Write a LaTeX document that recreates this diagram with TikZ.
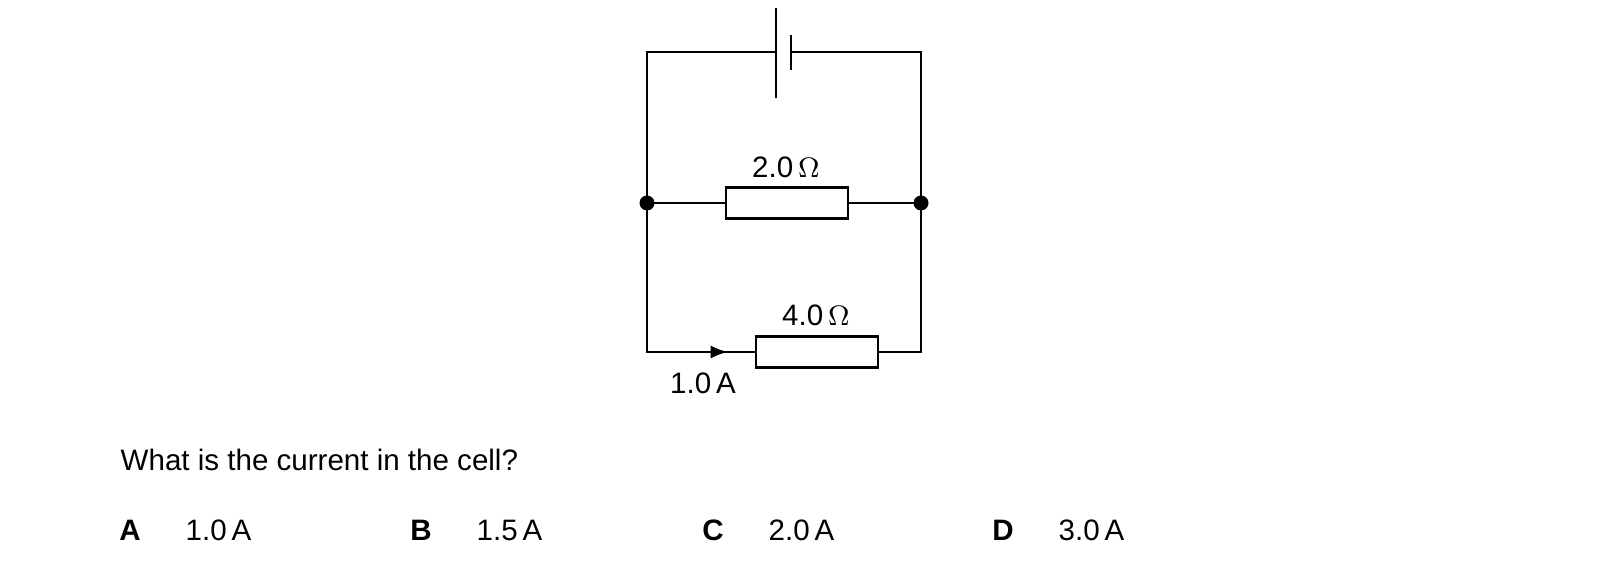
\documentclass[tikz,border=0pt]{standalone}
\usepackage{fontspec}
\setmainfont{Liberation Sans}
\usetikzlibrary{decorations.markings}
\tikzset{>=latex}
\tikzset{->-/.style={decoration={
  markings,
  mark=at position .75 with {\arrow{>}}},postaction={decorate}}}
\tikzset{wire/.style={line width=0.7pt}}
\tikzset{res/.style={draw, line width=0.7pt, minimum width=1.22cm, minimum height=0.31cm, inner sep=0pt}}
\tikzset{lbl/.style={font=\fontsize{8.4}{10}\selectfont, inner sep=0pt}}
\begin{document}
\begin{tikzpicture}[x=0.01cm, y=-0.01cm]
    \useasboundingbox (0,0) rectangle (1605,577);
    % corners and junctions
    \coordinate (tl) at (647,52);
    \coordinate (tr) at (921,52);
    \coordinate (ml) at (647,203);
    \coordinate (mr) at (921,203);
    \coordinate (bl) at (647,352);
    \coordinate (br) at (921,352);
    \coordinate (c1) at (776,52);
    \coordinate (c2) at (791,52);
    % resistors
    \node[res] (r1) at (787,203) {};
    \node[res] (r2) at (817,352) {};
    % wires
    \draw[wire] (c1) -- (tl) -- (bl) -- (r2.west);
    \draw[wire] (c2) -- (tr) -- (br) -- (r2.east);
    \draw[wire] (ml) -- (r1.west);
    \draw[wire] (mr) -- (r1.east);
    \draw[wire, ->-] (bl) -- (r2.west);
    % cell
    \draw[wire] (776,8) -- (776,98);
    \draw[wire] (791,35) -- (791,70);
    \fill (ml) circle (7.5);
    \fill (mr) circle (7.5);
    % labels
    \node[lbl] (l1) at (786,167) {2.0\,$\Omega$};
    \node[lbl] (l2) at (816,315) {4.0\,$\Omega$};
    \node[lbl] (l3) at (703,383) {1.0\,A};
    \node[lbl, anchor=west] (q) at (120,460) {What is the current in the cell?};
    \foreach \x/\l/\v in {130/A/1.0, 421/B/1.5, 713/C/2.0, 1003/D/3.0}{
        \node[lbl, font=\fontsize{8.4}{10}\selectfont\bfseries] at (\x,530) {\l};
        \node[lbl, anchor=west] at (\x+55,530) {\v\,A};
    }
\end{tikzpicture}
\end{document}
